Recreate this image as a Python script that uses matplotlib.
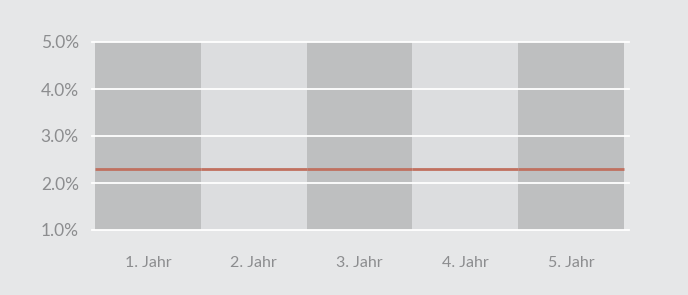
import numpy as np
import matplotlib.pyplot as plt

# data
years = ['1. Jahr', '2. Jahr', '3. Jahr', '4. Jahr', '5. Jahr']
band_low = [1.0, 1.0, 1.0, 1.0, 1.0]
band_high = [5.0, 5.0, 5.0, 5.0, 5.0]
rate = [2.3, 2.3, 2.3, 2.3, 2.3]
y_ticks = [1.0, 2.0, 3.0, 4.0, 5.0]

bg = '#e6e7e8'
dark = '#bebfc0'
light = '#dcdddf'
red = '#c0705f'
text_col = '#8c8d8f'

plt.rcParams['font.family'] = ['Lato', 'DejaVu Sans']

fig = plt.figure(figsize=(6.88, 2.95), dpi=100, facecolor=bg)
ax = fig.add_axes([92 / 688, 1 - 230 / 295, (629 - 92) / 688, (230 - 42) / 295])
ax.set_facecolor(bg)

x = np.arange(len(years))
colors = [dark if i % 2 == 0 else light for i in x]
ax.bar(x, np.array(band_high) - np.array(band_low), bottom=band_low,
       width=1.0, color=colors, linewidth=0, zorder=1)

# white gridlines over the bands
for t in y_ticks:
    ax.axhline(t, color='white', lw=1.3, zorder=2, clip_on=False)

# rate line, one segment per year
ax.hlines(rate, x - 0.5, x + 0.5, color=red, lw=2, zorder=3)

ax.set_xlim(-0.53, 4.55)
ax.set_ylim(1.0, 5.0)
ax.set_xticks(x)
ax.set_xticklabels(years, fontsize=11.5)
ax.set_yticks(y_ticks)
ax.set_yticklabels([f'{t:.1f}%' for t in y_ticks], fontsize=12.5)
ax.tick_params(length=0, colors=text_col)
ax.tick_params(axis='x', pad=19)
ax.tick_params(axis='y', pad=9.5)
for s in ax.spines.values():
    s.set_visible(False)

fig.savefig('out.png', dpi=100, facecolor=bg)
